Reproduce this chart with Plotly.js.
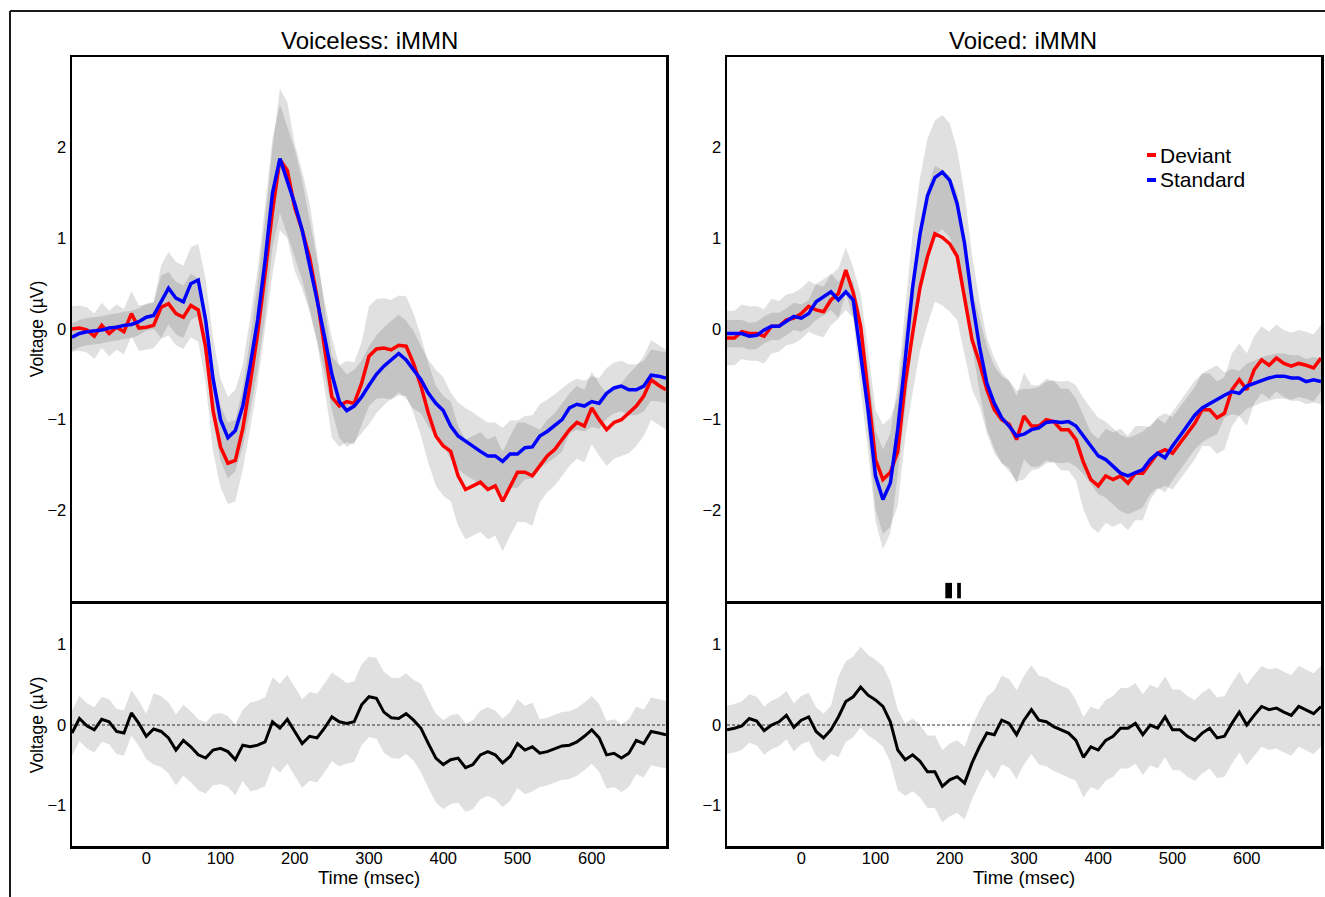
<!DOCTYPE html>
<html><head><meta charset="utf-8">
<script src="https://cdn.plot.ly/plotly-3.0.1.min.js"></script>
<style>html,body{margin:0;padding:0;background:#fff;}#chart{width:1325px;height:897px;}</style>
</head><body><div id="chart"></div>
<script>
// time axis (ms)
const timeMs = [-100,-90,-80,-70,-60,-50,-40,-30,-20,-10,0,10,20,30,40,50,60,70,80,90,100,110,120,130,140,150,160,170,180,190,200,210,220,230,240,250,260,270,280,290,300,310,320,330,340,350,360,370,380,390,400,410,420,430,440,450,460,470,480,490,500,510,520,530,540,550,560,570,580,590,600,610,620,630,640,650,660,670,680,690,700];

// Voiceless: iMMN
const voicelessDeviant = [0.00,0.01,-0.01,-0.08,0.04,-0.05,0.02,-0.03,0.17,0.01,
 0.02,0.04,0.24,0.28,0.17,0.13,0.26,0.21,-0.20,-0.90,
 -1.30,-1.48,-1.45,-1.10,-0.60,-0.05,0.60,1.30,1.87,1.75,
 1.34,1.09,0.79,0.35,-0.20,-0.75,-0.85,-0.80,-0.82,-0.60,
 -0.30,-0.22,-0.21,-0.23,-0.18,-0.19,-0.38,-0.63,-0.93,-1.18,
 -1.29,-1.35,-1.62,-1.77,-1.73,-1.69,-1.77,-1.73,-1.90,-1.73,
 -1.58,-1.58,-1.62,-1.51,-1.40,-1.33,-1.22,-1.11,-1.03,-1.07,
 -0.87,-1.00,-1.11,-1.03,-1.00,-0.93,-0.85,-0.74,-0.56,-0.62,
 -0.67];
const voicelessStandard = [-0.09,-0.05,-0.03,-0.02,-0.01,0.01,0.02,0.04,0.05,0.08,
 0.13,0.15,0.30,0.45,0.34,0.30,0.50,0.54,0.10,-0.55,
 -1.00,-1.20,-1.12,-0.85,-0.40,0.10,0.75,1.50,1.88,1.64,
 1.38,1.09,0.72,0.32,-0.08,-0.50,-0.80,-0.90,-0.85,-0.75,
 -0.62,-0.50,-0.41,-0.34,-0.27,-0.34,-0.45,-0.56,-0.71,-0.82,
 -0.90,-1.07,-1.18,-1.24,-1.29,-1.35,-1.40,-1.40,-1.46,-1.38,
 -1.38,-1.31,-1.30,-1.18,-1.13,-1.07,-1.00,-0.87,-0.83,-0.85,
 -0.80,-0.82,-0.71,-0.65,-0.63,-0.67,-0.67,-0.63,-0.51,-0.52,
 -0.54];
const voicelessDeviantCI = [0.25,0.25,0.25,0.25,0.25,0.25,0.25,0.25,0.25,0.25,
 0.25,0.25,0.35,0.35,0.35,0.35,0.35,0.35,0.40,0.45,
 0.45,0.45,0.45,0.45,0.50,0.55,0.60,0.70,0.78,0.75,
 0.70,0.65,0.60,0.50,0.45,0.45,0.45,0.45,0.45,0.45,
 0.55,0.55,0.55,0.55,0.55,0.55,0.55,0.55,0.55,0.55,
 0.55,0.55,0.55,0.55,0.55,0.55,0.55,0.55,0.55,0.55,
 0.55,0.55,0.55,0.40,0.40,0.40,0.40,0.40,0.40,0.40,
 0.40,0.40,0.40,0.40,0.40,0.44,0.44,0.44,0.44,0.44,
 0.44];
const voicelessStandardCI = [0.15,0.15,0.15,0.15,0.15,0.15,0.15,0.15,0.15,0.15,
 0.15,0.15,0.40,0.40,0.40,0.40,0.40,0.40,0.45,0.45,
 0.45,0.45,0.45,0.45,0.50,0.55,0.60,0.60,0.60,0.60,
 0.60,0.55,0.50,0.45,0.40,0.40,0.40,0.40,0.40,0.40,
 0.43,0.43,0.43,0.43,0.43,0.43,0.43,0.37,0.37,0.37,
 0.37,0.37,0.37,0.37,0.37,0.37,0.37,0.37,0.37,0.37,
 0.37,0.35,0.35,0.35,0.35,0.35,0.35,0.28,0.28,0.28,
 0.28,0.28,0.28,0.28,0.28,0.28,0.28,0.28,0.28,0.28,
 0.28];
const voicelessDiff = [-0.10,0.08,-0.01,-0.06,0.07,0.04,-0.08,-0.10,0.15,0.02,
 -0.14,-0.05,-0.08,-0.16,-0.31,-0.19,-0.27,-0.37,-0.41,-0.31,
 -0.29,-0.33,-0.43,-0.25,-0.27,-0.25,-0.21,0.04,-0.04,0.07,
 -0.08,-0.23,-0.14,-0.16,-0.04,0.10,0.04,0.02,0.04,0.25,
 0.35,0.33,0.16,0.09,0.08,0.14,0.06,-0.04,-0.23,-0.41,
 -0.49,-0.43,-0.41,-0.53,-0.49,-0.37,-0.33,-0.37,-0.47,-0.39,
 -0.23,-0.31,-0.27,-0.35,-0.33,-0.29,-0.26,-0.25,-0.21,-0.14,
 -0.06,-0.16,-0.37,-0.35,-0.41,-0.35,-0.19,-0.23,-0.08,-0.10,
 -0.12];
const voicelessDiffCI = [0.28,0.28,0.28,0.28,0.28,0.28,0.28,0.28,0.28,0.28,
 0.28,0.44,0.44,0.44,0.44,0.44,0.44,0.44,0.44,0.44,
 0.44,0.44,0.44,0.44,0.55,0.55,0.55,0.55,0.55,0.55,
 0.55,0.55,0.55,0.55,0.55,0.55,0.55,0.50,0.50,0.50,
 0.50,0.50,0.50,0.50,0.50,0.50,0.50,0.55,0.55,0.55,
 0.55,0.55,0.55,0.55,0.55,0.55,0.55,0.55,0.55,0.55,
 0.55,0.55,0.55,0.42,0.42,0.42,0.42,0.42,0.42,0.42,
 0.42,0.42,0.42,0.42,0.42,0.42,0.42,0.42,0.42,0.42,
 0.42];

// Voiced: iMMN
const voicedDeviant = [-0.10,-0.10,-0.03,-0.05,-0.05,-0.08,0.03,0.03,0.10,0.12,
 0.17,0.25,0.21,0.19,0.32,0.39,0.65,0.40,0.03,-0.67,
 -1.44,-1.66,-1.58,-1.35,-0.60,-0.05,0.46,0.80,1.05,1.01,
 0.94,0.80,0.35,-0.12,-0.37,-0.67,-0.89,-1.00,-1.05,-1.22,
 -0.96,-1.07,-1.07,-1.00,-1.02,-1.11,-1.11,-1.22,-1.47,-1.66,
 -1.73,-1.62,-1.66,-1.62,-1.70,-1.59,-1.59,-1.48,-1.37,-1.33,
 -1.37,-1.26,-1.15,-1.04,-0.89,-0.89,-0.98,-0.93,-0.67,-0.56,
 -0.67,-0.45,-0.34,-0.40,-0.32,-0.38,-0.41,-0.38,-0.40,-0.43,
 -0.32];
const voicedStandard = [-0.05,-0.05,-0.05,-0.08,-0.07,-0.01,0.03,0.03,0.08,0.14,
 0.12,0.17,0.30,0.35,0.41,0.32,0.41,0.32,-0.27,-0.89,
 -1.62,-1.88,-1.70,-1.10,-0.34,0.46,1.05,1.47,1.67,1.73,
 1.64,1.38,0.94,0.32,-0.19,-0.60,-0.82,-0.98,-1.07,-1.18,
 -1.16,-1.11,-1.09,-1.03,-1.02,-1.03,-1.02,-1.07,-1.18,-1.29,
 -1.40,-1.44,-1.51,-1.59,-1.62,-1.59,-1.55,-1.44,-1.37,-1.42,
 -1.29,-1.18,-1.07,-0.95,-0.87,-0.82,-0.78,-0.73,-0.69,-0.71,
 -0.63,-0.60,-0.56,-0.54,-0.52,-0.52,-0.54,-0.54,-0.58,-0.56,
 -0.58];
const voicedDeviantCI = [0.30,0.30,0.30,0.30,0.30,0.30,0.30,0.28,0.28,0.28,
 0.28,0.28,0.28,0.28,0.28,0.28,0.25,0.28,0.35,0.45,
 0.55,0.60,0.60,0.60,0.60,0.65,0.70,0.75,0.75,0.75,
 0.75,0.70,0.65,0.55,0.48,0.48,0.48,0.48,0.48,0.48,
 0.48,0.45,0.45,0.45,0.45,0.45,0.45,0.45,0.52,0.52,
 0.52,0.52,0.52,0.52,0.52,0.52,0.52,0.40,0.40,0.40,
 0.40,0.40,0.40,0.40,0.40,0.40,0.40,0.40,0.40,0.40,
 0.40,0.37,0.37,0.37,0.37,0.37,0.37,0.37,0.37,0.37,
 0.37];
const voicedStandardCI = [0.15,0.15,0.15,0.15,0.15,0.15,0.15,0.15,0.15,0.15,
 0.15,0.15,0.20,0.20,0.20,0.20,0.20,0.20,0.40,0.45,
 0.50,0.55,0.55,0.50,0.55,0.60,0.62,0.63,0.63,0.63,
 0.63,0.60,0.55,0.50,0.50,0.50,0.50,0.50,0.50,0.50,
 0.50,0.45,0.45,0.45,0.45,0.45,0.45,0.45,0.42,0.42,
 0.42,0.42,0.42,0.42,0.42,0.42,0.42,0.38,0.38,0.38,
 0.38,0.38,0.38,0.38,0.38,0.38,0.38,0.25,0.25,0.25,
 0.25,0.25,0.25,0.25,0.25,0.25,0.25,0.25,0.25,0.25,
 0.25];
const voicedDiff = [-0.06,-0.04,-0.01,0.08,0.05,-0.07,0.00,0.04,0.12,-0.03,
 0.06,0.10,-0.08,-0.16,-0.06,0.10,0.29,0.35,0.47,0.37,
 0.31,0.23,0.04,-0.31,-0.43,-0.37,-0.45,-0.58,-0.58,-0.76,
 -0.68,-0.64,-0.72,-0.47,-0.27,-0.10,-0.12,0.06,0.02,-0.12,
 0.06,0.19,0.06,0.04,-0.02,-0.06,-0.10,-0.19,-0.40,-0.27,
 -0.31,-0.19,-0.14,-0.04,-0.04,0.02,-0.12,0.00,-0.04,0.10,
 -0.06,-0.06,-0.14,-0.19,-0.10,-0.04,-0.16,-0.14,0.02,0.16,
 0.00,0.12,0.23,0.19,0.21,0.16,0.12,0.23,0.19,0.14,
 0.23];
const voicedDiffCI = [0.30,0.30,0.30,0.30,0.30,0.30,0.30,0.30,0.30,0.30,
 0.30,0.30,0.30,0.30,0.30,0.50,0.50,0.50,0.50,0.50,
 0.50,0.50,0.50,0.50,0.45,0.45,0.45,0.45,0.45,0.45,
 0.45,0.45,0.45,0.45,0.45,0.45,0.55,0.55,0.55,0.55,
 0.55,0.55,0.55,0.55,0.55,0.55,0.55,0.50,0.50,0.50,
 0.50,0.50,0.50,0.50,0.50,0.50,0.50,0.50,0.50,0.50,
 0.50,0.50,0.50,0.50,0.50,0.50,0.50,0.50,0.50,0.50,
 0.50,0.50,0.50,0.50,0.50,0.50,0.50,0.50,0.50,0.50,
 0.50];

// significant time windows (voiced, Deviant vs Standard)
const sigOnsetMs = [194, 210];
const sigOffsetMs = [203, 215];

const axisTickVals = [-2, -1, 0, 1, 2];
const diffTickVals = [-1, 0, 1];
const timeTickVals = [0, 100, 200, 300, 400, 500, 600];

// ---------- drawing ----------
const W = 1325, H = 897;
const px = v => v / W;
const py = v => 1 - v / H;
const FONT = '"Liberation Sans", Arial, Helvetica, sans-serif';
const BAND = 'rgba(0,0,0,0.12)';

function band(mean, ci, xa, ya) {
  const lo = mean.map((m, i) => m - ci[i]);
  const hi = mean.map((m, i) => m + ci[i]);
  return [
    {x: timeMs, y: lo, xaxis: xa, yaxis: ya, type: 'scatter', mode: 'lines',
     line: {width: 0, color: 'rgba(0,0,0,0)'}, hoverinfo: 'skip', showlegend: false},
    {x: timeMs, y: hi, xaxis: xa, yaxis: ya, type: 'scatter', mode: 'lines', fill: 'tonexty',
     fillcolor: BAND, line: {width: 0, color: 'rgba(0,0,0,0)'}, hoverinfo: 'skip', showlegend: false}
  ];
}
function line(mean, color, width, xa, ya, name) {
  return {x: timeMs, y: mean, xaxis: xa, yaxis: ya, type: 'scatter', mode: 'lines', name: name,
    line: {color: color, width: width}, showlegend: false};
}

const traces = [].concat(
  band(voicelessDeviant, voicelessDeviantCI, 'x', 'y'),
  band(voicelessStandard, voicelessStandardCI, 'x', 'y'),
  [line(voicelessDeviant, '#ff0000', 3.5, 'x', 'y', 'Deviant'),
   line(voicelessStandard, '#0000ff', 3.5, 'x', 'y', 'Standard')],
  band(voicedDeviant, voicedDeviantCI, 'x2', 'y2'),
  band(voicedStandard, voicedStandardCI, 'x2', 'y2'),
  [line(voicedDeviant, '#ff0000', 3.5, 'x2', 'y2', 'Deviant'),
   line(voicedStandard, '#0000ff', 3.5, 'x2', 'y2', 'Standard')],
  band(voicelessDiff, voicelessDiffCI, 'x3', 'y3'),
  [line(voicelessDiff, '#000000', 3, 'x3', 'y3', 'iMMN')],
  band(voicedDiff, voicedDiffCI, 'x4', 'y4'),
  [line(voicedDiff, '#000000', 3, 'x4', 'y4', 'iMMN')],
  [{type: 'bar', xaxis: 'x2', yaxis: 'y2',
    x: sigOnsetMs.map((s, i) => (s + sigOffsetMs[i]) / 2),
    width: sigOnsetMs.map((s, i) => sigOffsetMs[i] - s),
    base: sigOnsetMs.map(() => -2.97),
    y: sigOnsetMs.map(() => 0.17),
    marker: {color: '#000', line: {width: 0}}, hoverinfo: 'skip', showlegend: false}]
);

const baseAxis = {
  showline: true, mirror: true, linecolor: '#000', linewidth: 2.5,
  showgrid: false, zeroline: false, ticks: '',
  tickfont: {family: FONT, size: 16.5, color: '#000'}
};
const leftX = [px(72), px(666)], rightX = [px(727), px(1321)];
const topY = [py(601), py(57)], botY = [py(846), py(604)];
const yTitle = {text: 'Voltage (µV)', font: {family: FONT, size: 17.5, color: '#000'}, standoff: 0};
const xTitle = {text: 'Time (msec)', font: {family: FONT, size: 18.5, color: '#000'}, standoff: 0};

const legendFont = {family: FONT, size: 21, color: '#000'};

const layout = {
  width: W, height: H,
  margin: {l: 0, r: 0, t: 0, b: 0},
  paper_bgcolor: '#fff', plot_bgcolor: '#fff',
  showlegend: false, hovermode: false,
  font: {family: FONT, color: '#000'},
  xaxis:  Object.assign({}, baseAxis, {domain: leftX, anchor: 'y', range: [-100, 700], showticklabels: false}),
  yaxis:  Object.assign({}, baseAxis, {domain: topY, anchor: 'x', range: [-3, 3], tickvals: axisTickVals, title: yTitle}),
  xaxis2: Object.assign({}, baseAxis, {domain: rightX, anchor: 'y2', range: [-100, 700], showticklabels: false}),
  yaxis2: Object.assign({}, baseAxis, {domain: topY, anchor: 'x2', range: [-3, 3], tickvals: axisTickVals}),
  xaxis3: Object.assign({}, baseAxis, {domain: leftX, anchor: 'y3', range: [-100, 700], tickvals: timeTickVals, title: xTitle, ticklabelstandoff: -4}),
  yaxis3: Object.assign({}, baseAxis, {domain: botY, anchor: 'x3', range: [-1.5, 1.5], tickvals: diffTickVals, title: yTitle}),
  xaxis4: Object.assign({}, baseAxis, {domain: rightX, anchor: 'y4', range: [-100, 700], tickvals: timeTickVals, title: xTitle, ticklabelstandoff: -4}),
  yaxis4: Object.assign({}, baseAxis, {domain: botY, anchor: 'x4', range: [-1.5, 1.5], tickvals: diffTickVals}),
  shapes: [
    {type: 'line', xref: 'paper', yref: 'paper', x0: px(10), x1: px(1325), y0: py(11), y1: py(11), line: {color: '#1a1a1a', width: 2}},
    {type: 'line', xref: 'paper', yref: 'paper', x0: px(10), x1: px(10), y0: py(11), y1: 0, line: {color: '#1a1a1a', width: 2}},
    {type: 'line', xref: 'x3 domain', yref: 'y3', x0: 0, x1: 1, y0: 0, y1: 0, line: {color: '#333', width: 1, dash: '3px,2px'}, layer: 'below'},
    {type: 'line', xref: 'x4 domain', yref: 'y4', x0: 0, x1: 1, y0: 0, y1: 0, line: {color: '#333', width: 1, dash: '3px,2px'}, layer: 'below'},
    {type: 'rect', xref: 'paper', yref: 'paper', x0: px(1147), x1: px(1156), y0: py(157), y1: py(153), fillcolor: '#ff0000', line: {width: 0}},
    {type: 'rect', xref: 'paper', yref: 'paper', x0: px(1147), x1: px(1156), y0: py(182), y1: py(178), fillcolor: '#0000ff', line: {width: 0}}
  ],
  annotations: [
    {text: 'Voiceless: iMMN', xref: 'paper', yref: 'paper', x: px(369), y: py(40), xanchor: 'center', yanchor: 'middle', showarrow: false, font: {family: FONT, size: 24, color: '#000'}},
    {text: 'Voiced: iMMN', xref: 'paper', yref: 'paper', x: px(1023), y: py(40), xanchor: 'center', yanchor: 'middle', showarrow: false, font: {family: FONT, size: 24, color: '#000'}},
    {text: 'Deviant', xref: 'paper', yref: 'paper', x: px(1159), y: py(155), xanchor: 'left', yanchor: 'middle', showarrow: false, borderpad: 0, font: legendFont},
    {text: 'Standard', xref: 'paper', yref: 'paper', x: px(1159), y: py(180), xanchor: 'left', yanchor: 'middle', showarrow: false, borderpad: 0, font: legendFont}
  ]
};

Plotly.newPlot('chart', traces, layout, {displayModeBar: false, staticPlot: true});
</script>
</body></html>
